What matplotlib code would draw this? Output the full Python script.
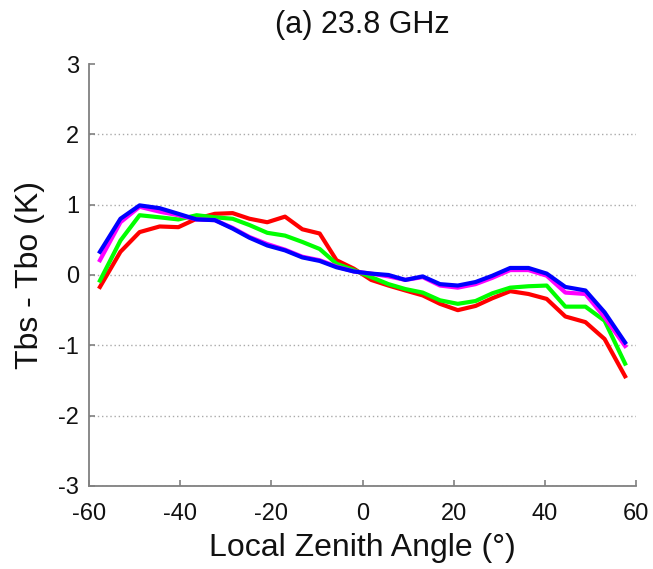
import matplotlib
matplotlib.use('Agg')
import matplotlib.pyplot as plt

plt.rcParams['font.family'] = ['Liberation Sans', 'DejaVu Sans']
plt.rcParams['axes.unicode_minus'] = False

# local zenith angle of the 30 scan positions (deg)
lza = [-57.6, -53.1, -48.9, -44.5, -40.4, -36.4, -32.4, -28.5, -24.8, -20.9,
       -17.0, -13.2, -9.4, -5.7, -1.9, 1.9, 5.7, 9.4, 13.2, 17.0,
       20.9, 24.8, 28.5, 32.4, 36.4, 40.4, 44.5, 48.9, 53.1, 57.6]

# Tbs - Tbo (K)
red = [-0.17, 0.33, 0.61, 0.69, 0.68, 0.80, 0.87, 0.88, 0.80, 0.75,
       0.83, 0.65, 0.59, 0.21, 0.09, -0.07, -0.15, -0.22, -0.29, -0.41,
       -0.50, -0.44, -0.33, -0.23, -0.27, -0.34, -0.59, -0.67, -0.91, -1.44]
green = [-0.08, 0.49, 0.85, 0.82, 0.79, 0.85, 0.82, 0.80, 0.71, 0.60,
         0.56, 0.47, 0.37, 0.16, 0.07, -0.03, -0.13, -0.20, -0.25, -0.36,
         -0.41, -0.37, -0.26, -0.18, -0.16, -0.15, -0.45, -0.45, -0.65, -1.26]
magenta = [0.21, 0.75, 0.97, 0.90, 0.85, 0.79, 0.78, 0.67, 0.54, 0.44,
           0.36, 0.26, 0.21, 0.12, 0.05, 0.02, -0.02, -0.07, -0.03, -0.15,
           -0.18, -0.13, -0.04, 0.07, 0.07, -0.01, -0.25, -0.27, -0.60, -1.01]
blue = [0.33, 0.80, 0.99, 0.95, 0.87, 0.79, 0.78, 0.66, 0.53, 0.42,
        0.35, 0.25, 0.20, 0.11, 0.05, 0.02, 0.00, -0.07, -0.02, -0.13,
        -0.15, -0.10, -0.01, 0.10, 0.10, 0.02, -0.17, -0.22, -0.53, -0.96]

xticks = [-60, -40, -20, 0, 20, 40, 60]
yticks = [-3, -2, -1, 0, 1, 2, 3]

fig = plt.figure(figsize=(6.53, 5.69), dpi=100)
ax = fig.add_axes([0.1363, 0.1459, 0.8377, 0.7416])

for ys, c in [(red, '#ff0000'), (green, '#00ff00'), (magenta, '#ff00ff'), (blue, '#0000ff')]:
    ax.plot(lza, ys, color=c, lw=3.0, solid_joinstyle='round')

ax.set_xlim(-60, 60)
ax.set_ylim(-3, 3)
ax.set_xticks(xticks)
ax.set_yticks(yticks)

ax.yaxis.grid(True, color='#aaaaaa', linestyle=(0, (1, 2)), linewidth=1)
ax.get_ygridlines()[-1].set_visible(False)

for s in ['top', 'right']:
    ax.spines[s].set_visible(False)
for s in ['left', 'bottom']:
    ax.spines[s].set_color('#808080')
    ax.spines[s].set_linewidth(1.3)

ax.tick_params(direction='in', length=4, width=1.2, color='#808080',
               labelsize=17, labelcolor='#111111')
ax.tick_params(axis='x', pad=12)
ax.tick_params(axis='y', pad=7)

ax.set_title('(a) 23.8 GHz', fontsize=22, pad=22, color='#111111')
ax.set_xlabel('Local Zenith Angle (°)', fontsize=23, labelpad=6, color='#111111')
ax.set_ylabel('Tbs - Tbo (K)', fontsize=23, labelpad=10, color='#111111')

fig.savefig('out.png', dpi=100)
